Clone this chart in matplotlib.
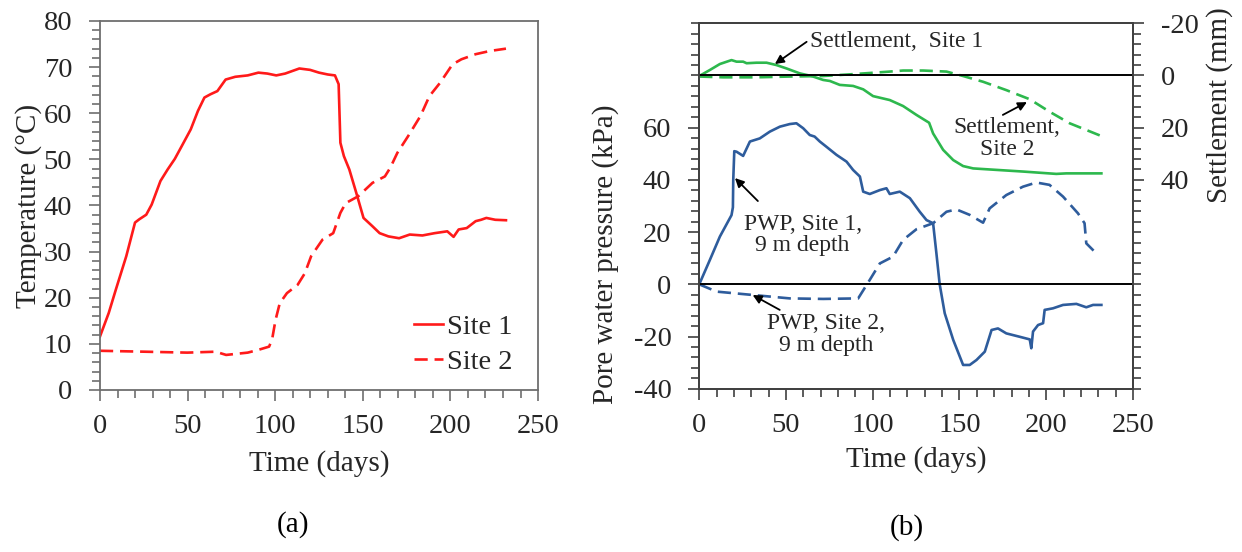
import matplotlib
matplotlib.use('Agg')
import matplotlib.pyplot as plt
from matplotlib.ticker import MultipleLocator, FixedLocator

plt.rcParams['font.family'] = ['Liberation Serif', 'DejaVu Serif']
plt.rcParams['axes.unicode_minus'] = False

# ---------------- Panel (a): temperature ----------------
t1_days = [0, 5, 9, 15, 20, 22.4, 26.4, 29.5, 34.5, 38.6, 42.7, 46.7, 51.8, 55.9, 59.6, 63, 67,
           71.7, 77.2, 84.3, 90.4, 95.5, 100.6, 105.7, 113.8, 119.9, 125, 130, 134.1, 136.2,
           137.2, 139.2, 142.3, 146.3, 150.4, 155.5, 159.6, 164.6, 170.7, 176.8, 184, 191,
           198.2, 201.8, 204.7, 209.3, 214.4, 217.5, 220.5, 225.6, 231.7]
t1_temp = [11.6, 16.7, 21.7, 29, 36.3, 37, 38, 40.2, 45.3, 47.8, 50.1, 52.9, 56.5, 60.5, 63.4, 64.1,
           64.8, 67.3, 67.9, 68.2, 68.8, 68.6, 68.2, 68.6, 69.7, 69.4, 68.8, 68.4, 68.2, 66.3,
           53.6, 50.7, 47.8, 42.7, 37.3, 35.5, 34, 33.3, 32.9, 33.7, 33.5, 34, 34.4, 33.2, 34.8,
           35.1, 36.6, 36.9, 37.3, 36.9, 36.8]

t2_days = [0, 25.4, 49.8, 66, 72, 84.3, 90.4, 96.5, 98.2, 100.2, 102.6, 106.7, 112.8, 116.9, 120.5,
           127, 133.1, 137.2, 140.2, 147.4, 155.5, 162.6, 165.7, 169.7, 175.8, 182.9, 188, 194.1,
           201.2, 206.3, 214.4, 222.6, 231.7]
t2_temp = [8.5, 8.3, 8.1, 8.3, 7.6, 8.1, 8.7, 9.4, 10.9, 15.2, 18.8, 21, 22.8, 25.3, 29, 32.6, 34,
           38.4, 40.5, 42, 44.9, 46.3, 48.2, 51.4, 55, 59.4, 63.7, 66.6, 70.6, 71.7, 72.8, 73.5, 74]

# ---------------- Panel (b): settlement & PWP ----------------
s1_days = [0, 6.1, 11.9, 18.6, 21.5, 25.3, 27.3, 33, 38.8, 44.5, 50.3, 58, 64.7, 71.4, 75.3, 81,
           88.7, 94.5, 100.2, 109.8, 117.5, 125.2, 132.5, 134.8, 140.6, 146.4, 152.1, 157.9,
           167.4, 186.6, 205.8, 211.6, 231.8]
s1_mm = [0.2, -2.1, -4.4, -5.9, -5.3, -5.3, -4.7, -4.9, -4.9, -4.0, -2.7, -0.8, 0.2, 1.7, 2.1, 3.6,
         4.0, 5.3, 7.9, 9.4, 11.7, 15.1, 18.1, 22.2, 28.5, 32.4, 34.7, 35.6, 36.0, 36.8, 37.7,
         37.5, 37.5]

s2_days = [0, 13.8, 33, 52.2, 71.4, 90.6, 109.8, 117.5, 129, 142.5, 152.1, 163.6, 177, 190.5,
           202, 213.5, 231.8]
s2_mm = [0.4, 0.7, 0.7, 0.4, 0.2, -0.6, -1.5, -1.9, -1.9, -1.5, 0.2, 2.4, 5.6, 9.1, 13.9, 18.3, 23.2]

p1_days = [0, 6.1, 11.9, 18.6, 19.4, 19.6, 20.2, 21.5, 25.3, 29.2, 34.9, 40.7, 46.5, 52.2, 56,
           59.9, 63.7, 66.5, 69.5, 73.3, 79.1, 84.9, 88.7, 92.6, 94.5, 98.3, 104.1, 107.9, 109.8,
           115.6, 121.4, 127.1, 131, 134.8, 136.7, 138.6, 141.5, 146.4, 152.1, 155.9, 159.8,
           164.6, 168.5, 172.2, 177, 184.7, 190.5, 191.4, 192.4, 195.3, 198.2, 199.1, 203.9,
           209.7, 217.4, 223.1, 227, 231.8]
p1_kpa = [0, 9.3, 18.3, 26.5, 29.5, 40, 51, 50.8, 49.2, 54.7, 55.9, 58.5, 60.4, 61.4, 61.7, 59.8,
          57.2, 56.6, 54.7, 52.7, 49.6, 47, 43.8, 41.3, 35.5, 34.6, 36.1, 36.8, 34.6, 35.5, 33,
          27.8, 24.6, 23.4, 11.9, 0, -11.1, -21.3, -30.9, -30.9, -29, -25.8, -17.5, -16.9,
          -18.8, -20.1, -21.1, -24.5, -18.1, -15.6, -14.9, -9.8, -9.2, -7.9, -7.5, -8.8, -7.9,
          -7.9]

p2_days = [0, 10, 31.1, 52.2, 71.4, 91.6, 98.3, 104.1, 111.7, 117.5, 125.2, 134.8, 142.5, 148.2,
           155.9, 163.6, 167.4, 177, 186.6, 194.3, 201.9, 209.7, 218.3, 222.1, 223.1, 227.9]
p2_kpa = [0, -2.8, -4.1, -5.4, -5.6, -5.4, 1.7, 8, 10.6, 17, 21.1, 23.4, 27.8, 28.7, 26.6, 23.6,
          29.1, 34.2, 37.4, 39, 38.1, 33.6, 27.2, 23.4, 15.7, 12.5]

temp_ticks = [0, 10, 20, 30, 40, 50, 60, 70, 80]
time_ticks = [0, 50, 100, 150, 200, 250]
pwp_labels = [-40, -20, 0, 20, 40, 60]
settle_labels = [-20, 0, 20, 40]

RED = '#FF1A1A'
GREEN = '#2DB84D'
BLUE = '#2E5C9C'
TXT = '#262626'
FS = 20.5      # tick labels
LFS = 21       # axis labels
AFS = 17       # annotations

fig = plt.figure(figsize=(12.42, 5.52), dpi=100)


def style_ticks(ax, spine_color):
    for sp in ax.spines.values():
        sp.set_color(spine_color)
        sp.set_linewidth(1.3)
    ax.tick_params(which='both', direction='out', colors=spine_color, labelcolor=TXT,
                   labelsize=FS, width=1.2)
    ax.tick_params(which='major', length=8)
    ax.tick_params(which='minor', length=5.5)
    ax.tick_params(axis='y', pad=12)
    ax.tick_params(axis='x', pad=9.5)


# ---------- (a) ----------
ax1 = fig.add_axes([0.0805, 0.2935, 0.3527, 0.6685])
ax1.plot(t1_days, t1_temp, color=RED, lw=1.9, label='Site 1')
ax1.plot(t2_days, t2_temp, color=RED, lw=1.9, dashes=(5, 2.6), label='Site 2')
ax1.set_xlim(0, 250)
ax1.set_ylim(0, 80)
ax1.xaxis.set_major_locator(FixedLocator(time_ticks))
ax1.xaxis.set_minor_locator(MultipleLocator(10))
ax1.yaxis.set_major_locator(FixedLocator(temp_ticks))
ax1.yaxis.set_minor_locator(MultipleLocator(2))
style_ticks(ax1, '#6e6e6e')
ax1.set_xlabel('Time (days)', fontsize=LFS, color=TXT, va='center')
ax1.set_ylabel('Temperature (°C)', fontsize=LFS, color=TXT, va='center')
ax1.xaxis.set_label_coords(0.5, -0.198)
ax1.yaxis.set_label_coords(-0.162, 0.5)
leg = ax1.legend(loc='lower right', bbox_to_anchor=(0.968, 0.01), frameon=False,
                 fontsize=FS, handlelength=1.0, handletextpad=0.15, labelspacing=0.3,
                 borderaxespad=0)
for t in leg.get_texts():
    t.set_color(TXT)

# ---------- (b) ----------
ax2 = fig.add_axes([0.5630, 0.2958, 0.3492, 0.662])
ax2.plot(p1_days, p1_kpa, color=BLUE, lw=1.9)
ax2.plot(p2_days, p2_kpa, color=BLUE, lw=1.9, dashes=(5, 2.6))
ax2.axhline(0, color='black', lw=1.4)
ax2.set_xlim(0, 250)
ax2.set_ylim(-40, 100)
ax2.xaxis.set_major_locator(FixedLocator(time_ticks))
ax2.xaxis.set_minor_locator(MultipleLocator(10))
ax2.yaxis.set_major_locator(FixedLocator(pwp_labels))
ax2.yaxis.set_minor_locator(MultipleLocator(4))
style_ticks(ax2, '#404040')
ax2.set_xlabel('Time (days)', fontsize=LFS, color=TXT, va='center')
ax2.set_ylabel('Pore water pressure (kPa)', fontsize=LFS, color=TXT, va='center')
ax2.xaxis.set_label_coords(0.5, -0.195)
ax2.yaxis.set_label_coords(-0.217, 0.369)

ax3 = ax2.twinx()
ax3.plot(s1_days, s1_mm, color=GREEN, lw=1.9)
ax3.plot(s2_days, s2_mm, color=GREEN, lw=1.9, dashes=(5, 2.6))
ax3.axhline(0, color='black', lw=1.4)
ax3.set_ylim(120, -20)
ax3.yaxis.set_major_locator(FixedLocator(settle_labels))
ax3.yaxis.set_minor_locator(MultipleLocator(4))
style_ticks(ax3, '#404040')
ax3.set_ylabel('Settlement (mm)', fontsize=LFS, color=TXT, rotation=90, va='center')
ax3.yaxis.set_label_coords(1.2006, 0.776)

arrow = dict(arrowstyle='-|>', color='black', lw=1.3, mutation_scale=13, shrinkA=0, shrinkB=0)
ax3.annotate('', xy=(43.6, -4.4), xytext=(61.9, -12.9), arrowprops=arrow)
ax3.text(63.8, -12.95, 'Settlement,  Site 1', fontsize=AFS, color=TXT, ha='left', va='center')
ax3.annotate('', xy=(188.9, 10.2), xytext=(175, 15.1), arrowprops=arrow)
ax3.text(177.4, 24, 'Settlement,\nSite 2', fontsize=AFS, color=TXT, ha='center', va='center',
         multialignment='center', linespacing=1.05)
ax3.annotate('', xy=(20.6, 80 - 40.7), xytext=(33.8, 80 - 31.9), arrowprops=arrow)
ax3.text(59.6, 80 - 18.9, 'PWP, Site 1,\n9 m depth', fontsize=AFS, color=TXT, ha='center',
         va='center', multialignment='center', linespacing=1.05)
ax3.annotate('', xy=(30.8, 80 + 4.1), xytext=(46.4, 80 + 9.8), arrowprops=arrow)
ax3.text(72.9, 80 + 19.1, 'PWP, Site 2,\n9 m depth', fontsize=AFS, color=TXT, ha='center',
         va='center', multialignment='center', linespacing=1.05)

fig.text(0.236, 0.049, '(a)', fontsize=LFS, color='black', ha='center', va='center')
fig.text(0.730, 0.045, '(b)', fontsize=LFS, color='black', ha='center', va='center')

fig.savefig('out.png', dpi=100)
